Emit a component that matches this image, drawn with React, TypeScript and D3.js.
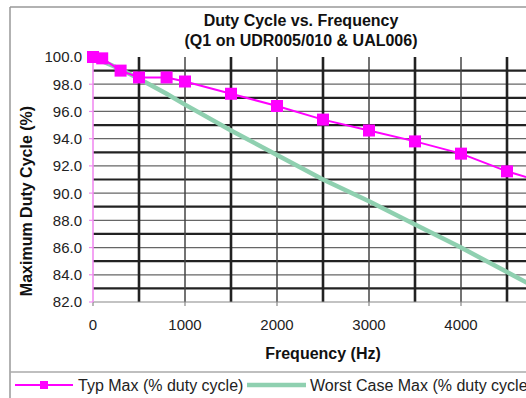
import React from "react";
import * as d3 from "d3";

const freqs = [0, 100, 300, 500, 800, 1000, 1500, 2000, 2500, 3000, 3500, 4000, 4500, 5000];
const typMax = [100.0, 99.9, 99.0, 98.5, 98.5, 98.2, 97.3, 96.4, 95.4, 94.6, 93.8, 92.9, 91.6, 90.6];
const worstMax = [100.0, 99.7, 99.1, 98.4, 97.3, 96.5, 94.6, 92.8, 91.0, 89.4, 87.7, 86.0, 84.2, 82.4];
const xTicks = [0, 1000, 2000, 3000, 4000];
const yTicks = [82, 84, 86, 88, 90, 92, 94, 96, 98, 100];
const xGrid = [500, 1000, 1500, 2000, 2500, 3000, 3500, 4000, 4500, 5000];
const yGrid = [83, 84, 85, 86, 87, 88, 89, 90, 91, 92, 93, 94, 95, 96, 97, 98, 99];
const titleLines = ["Duty Cycle vs. Frequency", "(Q1 on UDR005/010 & UAL006)"];
const seriesNames = ["Typ Max (% duty cycle)", "Worst Case Max (% duty cycle)"];

const FONT = "'Liberation Sans', Arial, Helvetica, sans-serif";

export default function App() {
  const W = 526, H = 398;
  const x = d3.scaleLinear().domain([0, 5000]).range([93, 553]);
  const y = d3.scaleLinear().domain([82, 100]).range([302, 57]);
  const typData = freqs.map((f, i) => [f, typMax[i]] as [number, number]);
  const worstData = freqs.map((f, i) => [f, worstMax[i]] as [number, number]);
  const line = d3.line<[number, number]>().x(d => x(d[0])).y(d => y(d[1]));
  const ms = 12;

  return (
    <svg width={W} height={H} style={{ position: "absolute", left: 0, top: 0, background: "#fff" }} fontFamily={FONT}>
      <rect x={0} y={0} width={W} height={H} fill="#fff" />
      {/* outer frame */}
      <line x1={10} y1={7} x2={W} y2={7} stroke="#999" strokeWidth={1.5} />
      <line x1={10} y1={7} x2={10} y2={H} stroke="#999" strokeWidth={1.5} />
      {/* title */}
      {titleLines.map((t, i) => (
        <text key={i} x={301} y={26 + i * 20} textAnchor="middle" fontSize={16} fontWeight="bold" fill="#111">{t}</text>
      ))}
      {/* horizontal grid */}
      {yGrid.map(v => {
        const odd = v % 2 === 1;
        return (
          <line key={"h" + v} x1={x(0)} x2={W} y1={y(v)} y2={y(v)}
            stroke={odd ? "#222" : "#666"} strokeWidth={odd ? 2.2 : 1.2} />
        );
      })}
      {/* vertical grid */}
      {xGrid.map(v => {
        const thick = v % 1000 === 500;
        return (
          <line key={"v" + v} x1={x(v)} x2={x(v)} y1={y(100)} y2={y(82)}
            stroke={thick ? "#222" : "#444"} strokeWidth={thick ? 2.6 : 1.5} />
        );
      })}
      {/* x axis */}
      <line x1={x(0)} x2={W} y1={y(82)} y2={y(82)} stroke="#888" strokeWidth={1.2} />
      {xTicks.map(v => (
        <g key={"xt" + v}>
          <line x1={x(v)} x2={x(v)} y1={y(82)} y2={y(82) + 4} stroke="#888" strokeWidth={1.2} />
          <text x={x(v)} y={329.5} textAnchor="middle" fontSize={15} fill="#222">{v}</text>
        </g>
      ))}
      {/* y axis */}
      <line x1={x(0)} x2={x(0)} y1={y(100)} y2={y(82)} stroke="#f08cf0" strokeWidth={1.6} />
      {yTicks.map(v => (
        <g key={"yt" + v}>
          <line x1={x(0) - 4} x2={x(0)} y1={y(v)} y2={y(v)} stroke="#f08cf0" strokeWidth={1.2} />
          <text x={82} y={y(v)} dy="0.36em" textAnchor="end" fontSize={15} fill="#222">{v.toFixed(1)}</text>
        </g>
      ))}
      {/* axis titles */}
      <text x={323} y={359} textAnchor="middle" fontSize={16} fontWeight="bold" fill="#111">Frequency (Hz)</text>
      <text transform={`translate(32,201) rotate(-90)`} textAnchor="middle" fontSize={16} fontWeight="bold" fill="#111">Maximum Duty Cycle (%)</text>
      {/* series */}
      <path d={line(worstData) || ""} fill="none" stroke="#8fd0b0" strokeWidth={4.5} />
      <path d={line(typData) || ""} fill="none" stroke="#ff00ff" strokeWidth={2} />
      {typData.map((d, i) => (
        <rect key={"m" + i} x={x(d[0]) - ms / 2} y={y(d[1]) - ms / 2} width={ms} height={ms} fill="#ff00ff" />
      ))}
      {/* legend */}
      <line x1={10} x2={W} y1={372} y2={372} stroke="#aaa" strokeWidth={1.5} />
      <line x1={15} x2={73} y1={385} y2={385} stroke="#ff00ff" strokeWidth={2} />
      <rect x={44 - 4} y={385 - 4} width={8} height={8} fill="#ff00ff" />
      <text x={78} y={390.5} fontSize={16} fill="#222">{seriesNames[0]}</text>
      <line x1={247} x2={306} y1={385} y2={385} stroke="#8fd0b0" strokeWidth={4.5} />
      <text x={310} y={390.5} fontSize={16} fill="#222">{seriesNames[1]}</text>
    </svg>
  );
}
